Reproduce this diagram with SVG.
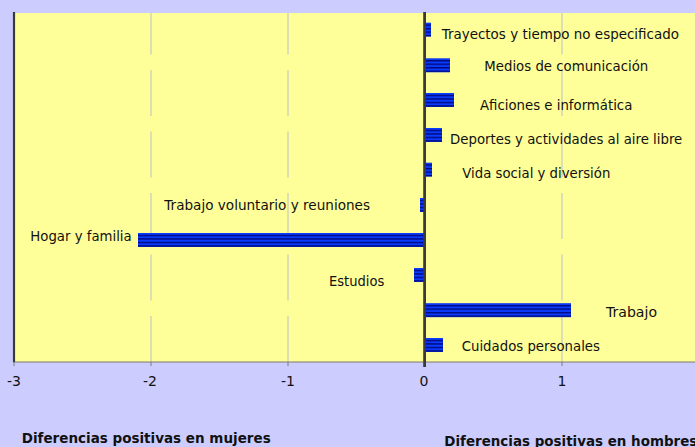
<svg xmlns="http://www.w3.org/2000/svg" width="695" height="447" viewBox="0 0 695 447">
<defs>
<pattern id="stripes" patternUnits="objectBoundingBox" width="1" height="0.25">
<rect x="0" y="0" width="1000" height="3.5" fill="#0a3cff"/>
<rect x="0" y="1.7" width="1000" height="1.5" fill="#000a80"/>
</pattern>
</defs>
<style>
.lbl{font-family:"DejaVu Sans","Liberation Sans",sans-serif;font-size:14px;fill:#111}
.tick{font-family:"DejaVu Sans","Liberation Sans",sans-serif;font-size:14px;fill:#111;text-anchor:middle}
.ttl{font-family:"DejaVu Sans","Liberation Sans",sans-serif;font-size:14px;font-weight:bold;fill:#111}
.bar{fill:url(#stripes)}
.grid{stroke:#c8c8c8;stroke-width:1.2;stroke-dasharray:46 15.5;fill:none}
</style>
<rect x="0" y="0" width="695" height="447" fill="#ccccff"/>
<rect x="13" y="13" width="682" height="349" fill="#ffff99"/>
<g id="grid">
<path class="grid" d="M151 362V13"/>
<path class="grid" d="M288 362V13"/>
<path class="grid" d="M562 362V13"/>
</g>
<g id="axes">
<line x1="13" y1="362" x2="695" y2="362" stroke="#7a7a6a" stroke-width="1"/>
<g stroke="#7a7a7a" stroke-width="1">
<line x1="14" y1="362" x2="14" y2="366"/>
<line x1="151" y1="362" x2="151" y2="366"/>
<line x1="288" y1="362" x2="288" y2="366"/>
<line x1="562" y1="362" x2="562" y2="366"/>
</g>
<line x1="14" y1="12" x2="14" y2="362" stroke="#3a3a3a" stroke-width="2.2"/>
<text class="tick" x="14" y="386">-3</text>
<text class="tick" x="150" y="386">-2</text>
<text class="tick" x="288" y="386">-1</text>
<text class="tick" x="424" y="386">0</text>
<text class="tick" x="562" y="386">1</text>
</g>
<g id="trayectos">
<rect class="bar" x="424.5" y="22.7" width="6.5" height="14"/>
<text class="lbl" x="441.7" y="38.7" textLength="237.3" lengthAdjust="spacingAndGlyphs">Trayectos y tiempo no especificado</text>
</g>
<g id="medios">
<rect class="bar" x="424.5" y="58.3" width="25.5" height="14"/>
<text class="lbl" x="484.3" y="71" textLength="164" lengthAdjust="spacingAndGlyphs">Medios de comunicación</text>
</g>
<g id="aficiones">
<rect class="bar" x="424.5" y="93" width="29.5" height="14"/>
<text class="lbl" x="480" y="110" textLength="152.3" lengthAdjust="spacingAndGlyphs">Aficiones e informática</text>
</g>
<g id="deportes">
<rect class="bar" x="424.5" y="128" width="17.5" height="14"/>
<text class="lbl" x="450" y="144.3" textLength="232.3" lengthAdjust="spacingAndGlyphs">Deportes y actividades al aire libre</text>
</g>
<g id="vida-social">
<rect class="bar" x="424.5" y="162.7" width="7.5" height="14"/>
<text class="lbl" x="462.3" y="177.7" textLength="148" lengthAdjust="spacingAndGlyphs">Vida social y diversión</text>
</g>
<g id="trabajo-voluntario">
<rect class="bar" x="420" y="198" width="4.5" height="14"/>
<text class="lbl" x="164.3" y="210" textLength="205.7" lengthAdjust="spacingAndGlyphs">Trabajo voluntario y reuniones</text>
</g>
<g id="hogar">
<rect class="bar" x="138" y="233" width="286.5" height="14"/>
<text class="lbl" x="30.3" y="240.7" textLength="101.4" lengthAdjust="spacingAndGlyphs">Hogar y familia</text>
</g>
<g id="estudios">
<rect class="bar" x="414" y="268" width="10.5" height="14"/>
<text class="lbl" x="329" y="285.7" textLength="55.3" lengthAdjust="spacingAndGlyphs">Estudios</text>
</g>
<g id="trabajo">
<rect class="bar" x="424.5" y="303.2" width="146.5" height="14"/>
<text class="lbl" x="606" y="316.7" textLength="51" lengthAdjust="spacingAndGlyphs">Trabajo</text>
</g>
<g id="cuidados">
<rect class="bar" x="424.5" y="338" width="18.5" height="14"/>
<text class="lbl" x="461.7" y="351" textLength="138.3" lengthAdjust="spacingAndGlyphs">Cuidados personales</text>
</g>
<line id="zero-axis" x1="424.6" y1="12" x2="424.6" y2="367" stroke="#3a3a3a" stroke-width="2.8"/>
<g id="titles">
<text class="ttl" x="21.7" y="442.5" textLength="249" lengthAdjust="spacingAndGlyphs">Diferencias positivas en mujeres</text>
<text class="ttl" x="444.3" y="445.7" textLength="253" lengthAdjust="spacingAndGlyphs">Diferencias positivas en hombres</text>
</g>
</svg>
